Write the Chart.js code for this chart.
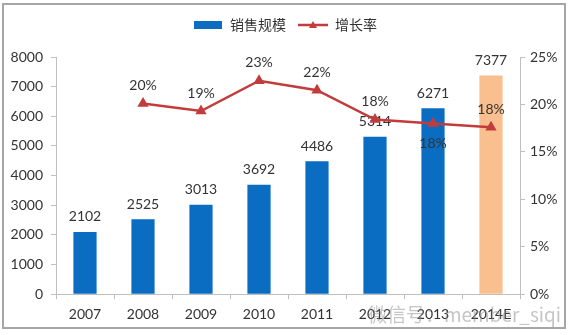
<!DOCTYPE html>
<html>
<head>
<meta charset="utf-8">
<script src="https://cdn.jsdelivr.net/npm/chart.js@4.4.1/dist/chart.umd.min.js"></script>
<style>
  html, body { margin: 0; padding: 0; background: #fff; }
  #wrap { position: relative; width: 570px; height: 335px; }
  #chart { position: absolute; left: 0; top: 0; }
  #frame { position: absolute; left: 2px; top: 3px; width: 560px; height: 322px; border: 2px solid #a6a6a6; pointer-events: none; }
  #mark { position: absolute; left: 368px; top: 300px; font: 19px "Noto Sans CJK SC", sans-serif; color: rgba(140,140,140,0.5); pointer-events: none; }
</style>
</head>
<body>
<div id="wrap">
  <canvas id="chart" width="570" height="335"></canvas>
  <div id="frame"></div>
  <div id="mark">微信号：member_siqi</div>
</div>
<script>
const years = ['2007', '2008', '2009', '2010', '2011', '2012', '2013', '2014E'];
const sales = [2102, 2525, 3013, 3692, 4486, 5314, 6271, 7377];
const growth = [null, 20.1, 19.3, 22.5, 21.5, 18.4, 18.0, 17.6];
const salesTicks = { min: 0, max: 8000, step: 1000 };
const growthTicks = { min: 0, max: 25, step: 5 };

const blue = '#0a6dc2';
const orange = '#f9bf8f';
const red = '#c33b3b';
const axisGray = '#bfbfbf';
const textColor = '#333';
const font = 'Lato, "Noto Sans CJK SC", sans-serif';

// legend swatches
const barSwatch = document.createElement('canvas');
barSwatch.width = 28; barSwatch.height = 8;
let g = barSwatch.getContext('2d');
g.fillStyle = blue;
g.fillRect(0, 0, 28, 8);

const lineSwatch = document.createElement('canvas');
lineSwatch.width = 30; lineSwatch.height = 10;
g = lineSwatch.getContext('2d');
g.strokeStyle = red; g.lineWidth = 2.5;
g.beginPath(); g.moveTo(0, 5); g.lineTo(30, 5); g.stroke();
g.fillStyle = red;
g.beginPath(); g.moveTo(15, 1); g.lineTo(19, 8); g.lineTo(11, 8); g.closePath(); g.fill();

// extra room under the legend
const legendGap = {
  id: 'legendGap',
  afterInit(chart) {
    const legend = chart.legend;
    const fit = legend.fit;
    legend.fit = function () { fit.call(this); this.height += 15; };
  }
};

const valueLabels = {
  id: 'valueLabels',
  afterDatasetDraw(chart, args) {
    if (args.index !== 0) return;
    const ctx = chart.ctx;
    ctx.save();
    ctx.font = '14px ' + font;
    ctx.fillStyle = textColor;
    ctx.textAlign = 'center';
    ctx.textBaseline = 'middle';
    args.meta.data.forEach((bar, i) => {
      ctx.fillText(String(sales[i]), bar.x, bar.y - 15);
    });
    ctx.restore();
  },
  afterDatasetsDraw(chart, args, opts) {
    const ctx = chart.ctx;
    ctx.save();
    ctx.font = '14px ' + font;
    ctx.fillStyle = textColor;
    ctx.textAlign = 'center';
    ctx.textBaseline = 'middle';
    chart.getDatasetMeta(1).data.forEach((pt, i) => {
      if (growth[i] == null) return;
      const dy = opts.below.includes(i) ? 20 : -18;
      ctx.fillText(Math.round(growth[i]) + '%', pt.x, pt.y + dy);
    });
    ctx.restore();
  }
};

new Chart(document.getElementById('chart'), {
  type: 'bar',
  data: {
    labels: years,
    datasets: [{
      type: 'bar',
      label: '销售规模',
      data: sales,
      yAxisID: 'y',
      order: 2,
      backgroundColor: years.map(y => y.endsWith('E') ? orange : blue),
      barPercentage: 0.4,
      categoryPercentage: 1.0
    }, {
      type: 'line',
      label: '增长率',
      data: growth,
      yAxisID: 'y1',
      order: 1,
      borderColor: red,
      backgroundColor: red,
      borderWidth: 2.5,
      pointStyle: 'triangle',
      pointRadius: 4,
      pointBackgroundColor: red,
      pointBorderColor: red,
      tension: 0
    }]
  },
  options: {
    responsive: false,
    animation: false,
    layout: { padding: { top: 6, bottom: 5, left: 0, right: 0 } },
    plugins: {
      tooltip: { enabled: false },
      valueLabels: { below: [6] },
      legend: {
        position: 'top',
        labels: {
          usePointStyle: true,
          pointStyleWidth: 30,
          padding: 12,
          color: textColor,
          font: { family: font, size: 14 },
          sort: (a, b) => a.datasetIndex - b.datasetIndex,
          generateLabels(chart) {
            const items = Chart.defaults.plugins.legend.labels.generateLabels(chart);
            items.forEach(it => { it.pointStyle = it.datasetIndex === 0 ? barSwatch : lineSwatch; });
            return items;
          }
        }
      }
    },
    scales: {
      x: {
        grid: { offset: true, drawOnChartArea: false, tickLength: 5, color: axisGray },
        border: { color: axisGray },
        ticks: { padding: 7, color: textColor, font: { family: font, size: 14 } }
      },
      y: {
        position: 'left',
        min: salesTicks.min,
        max: salesTicks.max,
        grid: { drawOnChartArea: false, tickLength: 5, color: axisGray },
        border: { color: axisGray },
        ticks: { stepSize: salesTicks.step, padding: 8, color: textColor, font: { family: font, size: 14 }, callback: v => String(v) },
        afterFit(s) { s.width = 56; }
      },
      y1: {
        position: 'right',
        min: growthTicks.min,
        max: growthTicks.max,
        grid: { drawOnChartArea: false, tickLength: 5, color: axisGray },
        border: { color: axisGray },
        ticks: { stepSize: growthTicks.step, padding: 5, color: textColor, font: { family: font, size: 14 }, callback: v => v + '%' },
        afterFit(s) { s.width = 50; }
      }
    }
  },
  plugins: [legendGap, valueLabels]
});
</script>
</body>
</html>
